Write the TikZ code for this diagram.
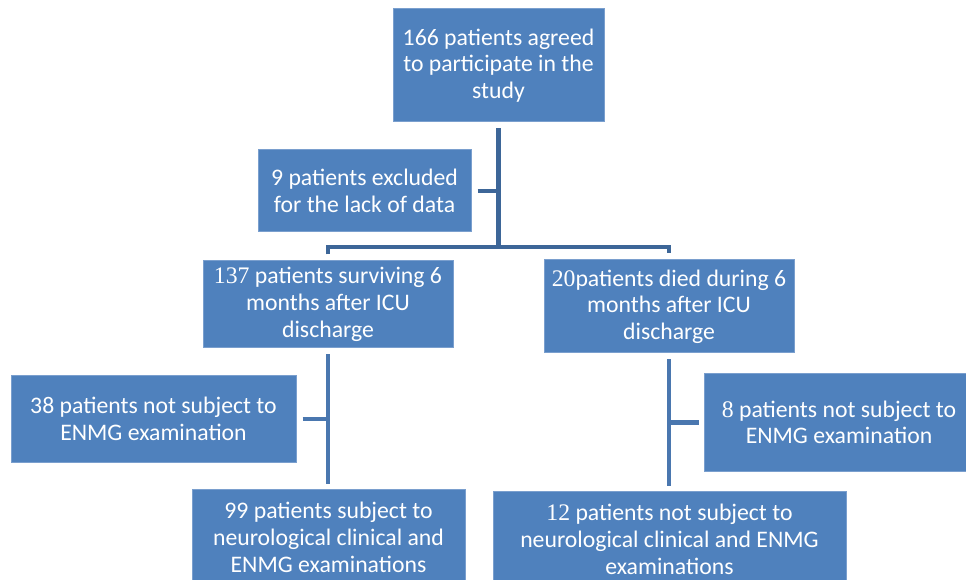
\documentclass[tikz,border=0pt]{standalone}
\usepackage{fontspec}
\setmainfont{Carlito}
\newfontfamily\dig{Liberation Serif}
\definecolor{boxfill}{HTML}{4F81BD}
\definecolor{boxline}{HTML}{7A9FCE}
\definecolor{conntop}{HTML}{3D6698}
\definecolor{connlow}{HTML}{4A77AF}
\tikzset{
  box/.style={draw=boxline, fill=boxfill, line width=0.75pt, align=center,
    inner sep=0pt, text=white, font=\fontsize{17.8pt}{20pt}\selectfont},
  conn/.style={draw=conntop, line width=3.4pt},
  connb/.style={draw=connlow, line width=3.4pt}
}
\begin{document}
\begin{tikzpicture}[x=0.75pt,y=-0.75pt]
\useasboundingbox (0,0) rectangle (966,580);
\node[box, minimum width=211*0.75pt, minimum height=113*0.75pt] (top) at (498.5,65.5)
  {166 patients agreed\\to participate in the\\study};
\node[box, minimum width=213*0.75pt, minimum height=82*0.75pt] (excl) at (364.5,191)
  {9 patients excluded\\for the lack of data};
\node[box, minimum width=250*0.75pt, minimum height=87*0.75pt] (b137) at (328,304.5)
  {{\dig 137} patients surviving 6\\months after ICU\\discharge};
\node[box, minimum width=250*0.75pt, minimum height=93*0.75pt] (b20) at (669,306.5)
  {{\dig 20}patients died during 6\\months after ICU\\discharge};
\node[box, minimum width=285*0.75pt, minimum height=86*0.75pt] (b38) at (153.5,419)
  {38 patients not subject to\\ENMG examination};
\node[box, minimum width=270*0.75pt, minimum height=97*0.75pt] (b8) at (839,422.5)
  {{\dig 8} patients not subject to\\ENMG examination};
\node[box, minimum width=273*0.75pt, minimum height=97*0.75pt] (b99) at (328.5,537.5)
  {99 patients subject to\\neurological clinical and\\ENMG examinations};
\node[box, minimum width=353*0.75pt, minimum height=97*0.75pt] (b12) at (669.5,539.5)
  {{\dig 12} patients not subject to\\neurological clinical and ENMG\\examinations};
\coordinate (j) at (498.5,247);
% top connectors
\draw[conn] ([yshift=-4.5pt]top.south) -- (j);
\draw[conn] ([yshift=4.5pt]b137.north) |- (j) -| ([yshift=4.5pt]b20.north);
\draw[conn] ([xshift=4.5pt]excl.east) -- (excl.east -| j);
% lower connectors
\draw[connb] ([yshift=-4.5pt]b137.south) -- ([yshift=3.75pt]b137.south |- b99.north);
\draw[connb] ([xshift=4.5pt]b38.east) -- (b38.east -| b137.south);
\draw[connb] ([yshift=-4.5pt]b20.south) -- ([yshift=3.75pt]b20.south |- b12.north);
\draw[connb] ([xshift=-3.75pt]b8.west) -- (b8.west -| b20.south);
\end{tikzpicture}
\end{document}
